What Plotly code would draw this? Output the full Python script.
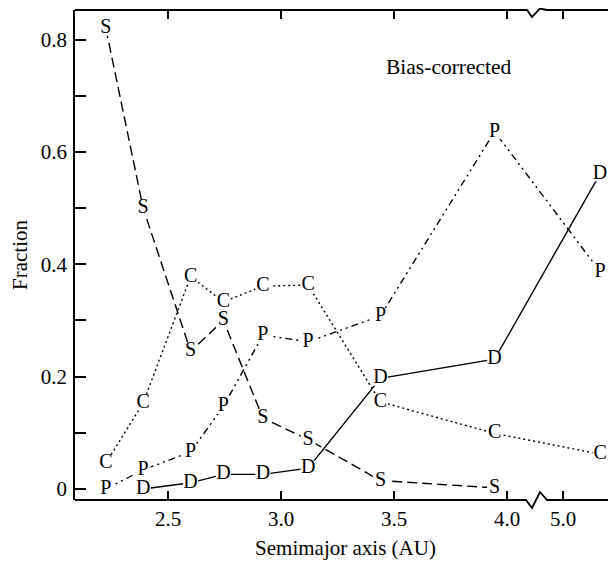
import plotly.graph_objects as go

# ---------------- data ----------------
a_main = [2.225, 2.39, 2.60, 2.745, 2.92, 3.12, 3.44, 3.945]   # semimajor axis (AU), main belt bins
a_trojan = [5.2]                                                # Trojan bin (AU)

frac_S = [0.82, 0.50, 0.245, 0.30, 0.126, 0.088, 0.015, 0.002]
frac_C = [0.046, 0.153, 0.378, 0.333, 0.361, 0.363, 0.155, 0.099, 0.062]
frac_P = [0.0, 0.034, 0.066, 0.147, 0.274, 0.262, 0.308, 0.636, 0.387]
frac_D = [0.0, 0.011, 0.026, 0.026, 0.037, 0.197, 0.231, 0.561]   # starts at 2nd bin

x_ticks = [2.5, 3.0, 3.5, 4.0, 5.0]
x_tick_labels = ["2.5", "3.0", "3.5", "4.0", "5.0"]
y_ticks = [0, 0.1, 0.2, 0.3, 0.4, 0.5, 0.6, 0.7, 0.8]
y_tick_labels = ["0", "", "0.2", "", "0.4", "", "0.6", "", "0.8"]

# ---------------- broken x axis ----------------
OUTER_AU = 5.0        # outer segment reference value
OUTER_POS = 4.2478    # where it sits on the plotting scale
OUTER_SCALE = 0.82    # compression of the outer segment


def bx(a):
    return a if a < 4.5 else OUTER_POS + (a - OUTER_AU) * OUTER_SCALE


FONT = "Liberation Serif, Times New Roman, serif"
OFF = 8                      # default page (body) margin of the html page
W, H = 616 - OFF, 562 - OFF
# plot area in page pixels
PL, PR, PT, PB = 75, 616, 10, 500
L, R, T, B = PL - OFF, PR - OFF, PT - OFF, PB - OFF


def px(x):  # page pixel -> paper
    return (x - PL) / (PR - PL)


def py(y):
    return (PB - y) / (PB - PT)


series = [
    ("S", a_main, frac_S, "10px,5px"),
    ("C", a_main + a_trojan, frac_C, "2px,3px"),
    ("P", a_main + a_trojan, frac_P, "7px,4px,2px,4px,2px,4px"),
    ("D", a_main[1:] + a_trojan, frac_D, "solid"),
]

fig = go.Figure()
for name, xs, ys, dash in series:
    fig.add_trace(go.Scatter(
        x=[bx(v) for v in xs], y=ys, mode="lines",
        line=dict(color="black", width=1.4, dash=dash),
        showlegend=False, hoverinfo="skip"))
for name, xs, ys, dash in series:
    fig.add_trace(go.Scatter(
        x=[bx(v) for v in xs], y=ys, mode="markers+text",
        text=[name] * len(ys), textposition="middle center",
        textfont=dict(family=FONT, size=20, color="black"),
        marker=dict(symbol="square", size=15, color="white", line=dict(width=0)),
        showlegend=False, cliponaxis=False, hoverinfo="skip"))

# invisible trace for right-side tick axis
fig.add_trace(go.Scatter(x=[None], y=[None], yaxis="y2", showlegend=False))

frame = dict(color="black", width=1.8)
shapes = [
    dict(type="path", xref="paper", yref="paper", line=frame,
         path=(f"M {px(75)},{py(500)} L {px(526)},{py(500)} L {px(532)},{py(508)} "
               f"L {px(540)},{py(492)} L {px(547)},{py(500)} L {px(616)},{py(500)}")),
    dict(type="path", xref="paper", yref="paper", line=frame,
         path=(f"M {px(75)},{py(10)} L {px(527)},{py(10)} L {px(532)},{py(17)} "
               f"L {px(540)},{py(8.5)} L {px(547)},{py(10)} L {px(616)},{py(10)}")),
]

fig.update_layout(
    width=W, height=H,
    margin=dict(l=L, r=W - R, t=T, b=H - B),
    paper_bgcolor="white", plot_bgcolor="white",
    font=dict(family=FONT, size=21, color="black"),
    showlegend=False,
    shapes=shapes,
    annotations=[dict(text="Bias-corrected", x=px(449), y=py(67), xref="paper", yref="paper",
                      showarrow=False, xanchor="center", yanchor="middle",
                      font=dict(family=FONT, size=21.5, color="black"))],
    xaxis=dict(range=[2.0885, 4.4823], tickvals=[bx(v) for v in x_ticks], ticktext=x_tick_labels,
               ticks="inside", ticklen=9, tickwidth=1.5, tickcolor="black",
               mirror="ticks", showline=False, showgrid=False, zeroline=False,
               ticklabelstandoff=4,
               tickfont=dict(family=FONT, size=21, color="black"),
               title=dict(text="Semimajor axis (AU)", standoff=10,
                          font=dict(family=FONT, size=21, color="black"))),
    yaxis=dict(range=[-0.0196, 0.8525], tickvals=y_ticks, ticktext=y_tick_labels,
               ticks="inside", ticklen=11, tickwidth=1.5, tickcolor="black",
               showline=True, linecolor="black", linewidth=1.8,
               showgrid=False, zeroline=False, ticklabelstandoff=2,
               tickfont=dict(family=FONT, size=21, color="black"),
               title=dict(text="Fraction", standoff=14,
                          font=dict(family=FONT, size=21, color="black"))),
    yaxis2=dict(overlaying="y", side="right", matches="y", tickvals=y_ticks,
                ticks="inside", ticklen=8, tickwidth=1.5, tickcolor="black",
                showticklabels=False, showline=False, showgrid=False, zeroline=False),
)

fig.write_html("out.html",
               post_script="document.documentElement.style.overflow='hidden';")
